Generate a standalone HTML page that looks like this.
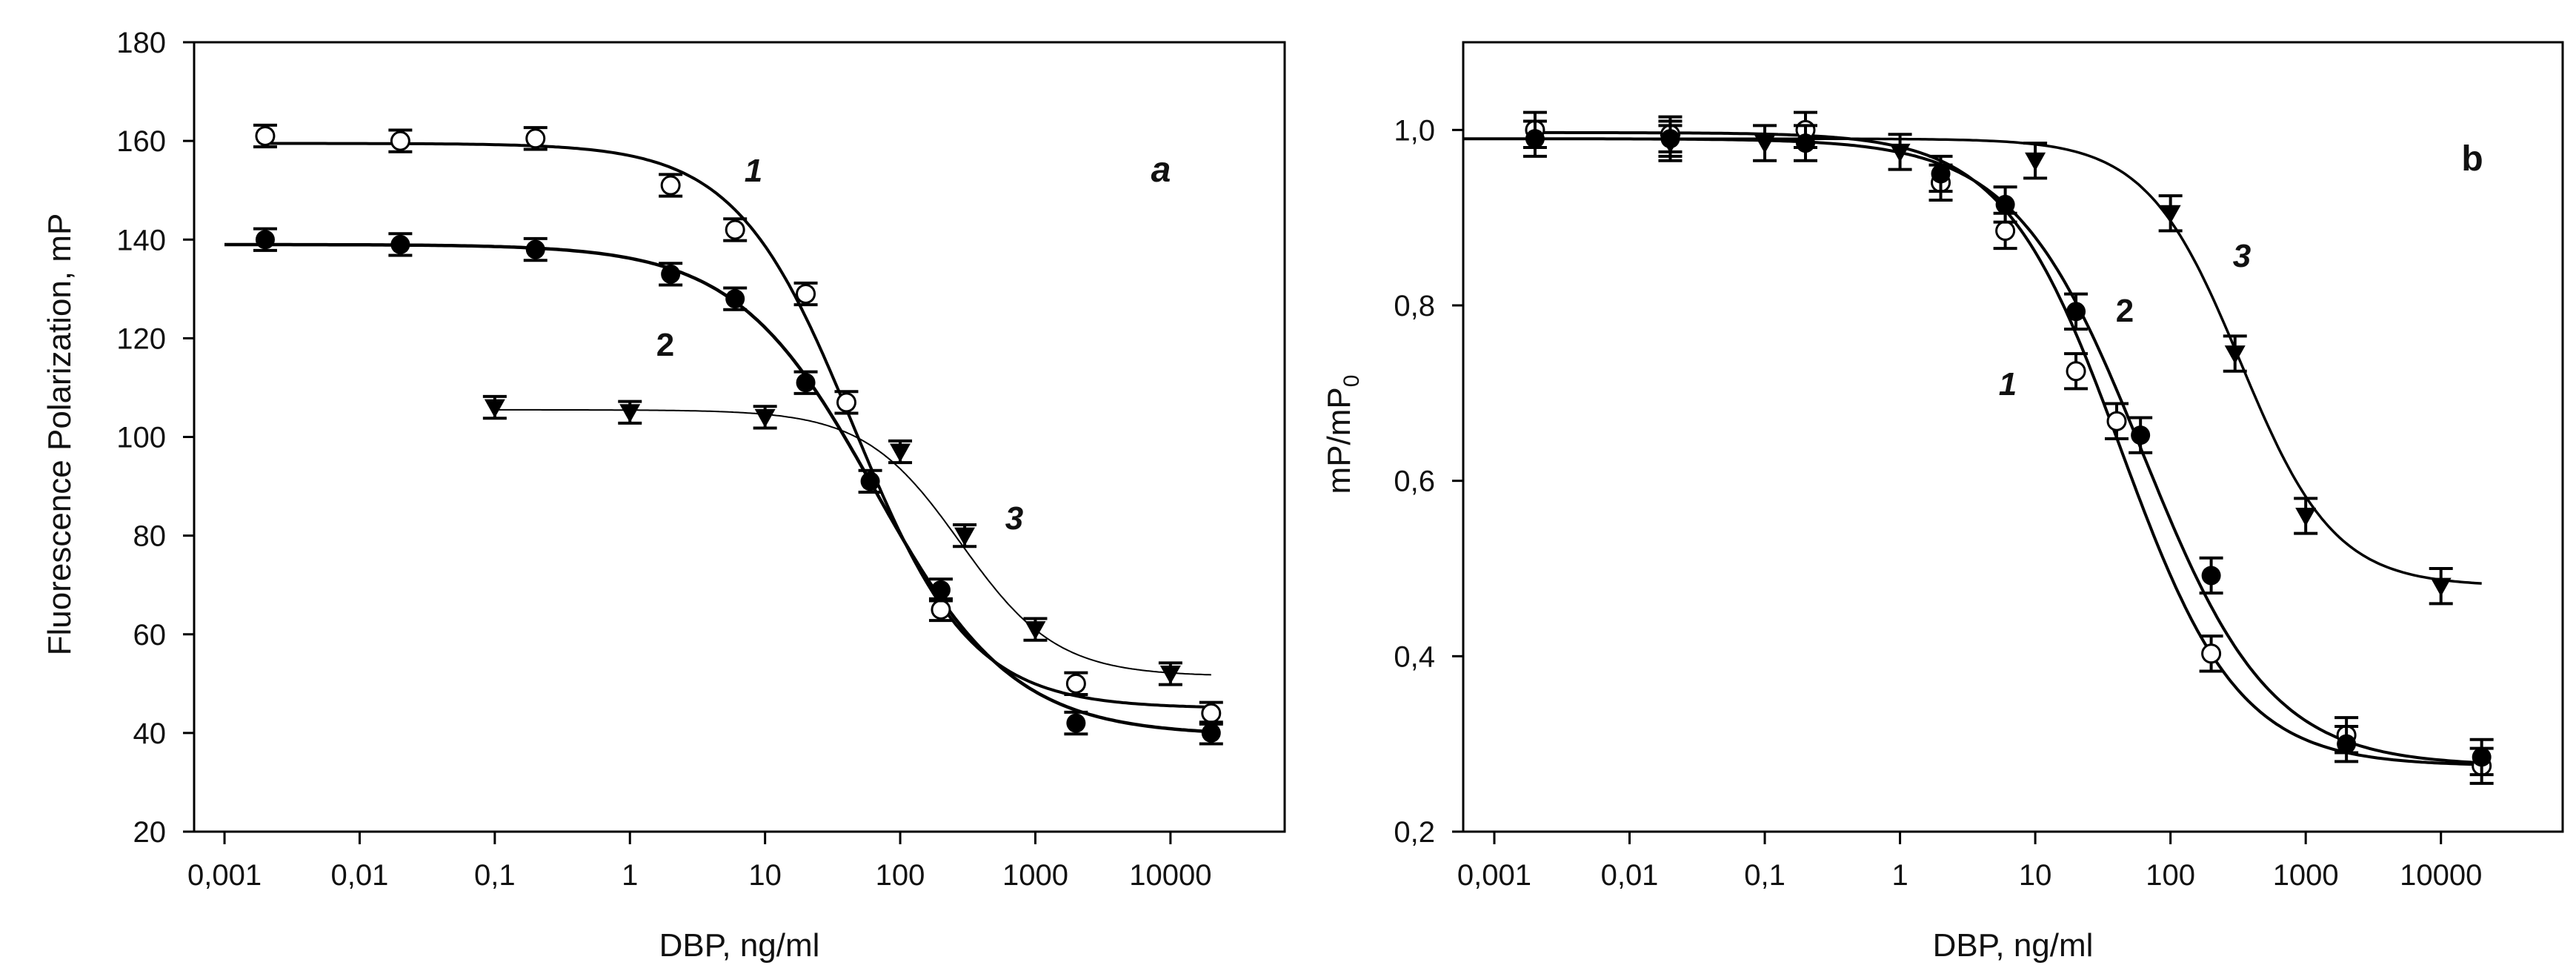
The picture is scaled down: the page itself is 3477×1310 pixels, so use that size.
<!DOCTYPE html>
<html><head><meta charset="utf-8"><style>
html,body{margin:0;padding:0;background:#fff}
svg{display:block}
text{font-family:"Liberation Sans",Arial,sans-serif;fill:#111}
</style></head><body>
<svg id="fig" width="3477" height="1310" viewBox="0 0 3477 1310" xmlns="http://www.w3.org/2000/svg">
<g id="pa"></g>
<g id="pb"></g>
</svg>
<script>
// ---------- data: panel a ----------
const xTickValues = [0.001,0.01,0.1,1,10,100,1000,10000];
const xTickLabels = ["0,001","0,01","0,1","1","10","100","1000","10000"];
const aYTicks = [20,40,60,80,100,120,140,160,180];
const aYTickLabels = ["20","40","60","80","100","120","140","160","180"];
const a1x = [0.002,0.02,0.2,2,6,20,40,200,2000,20000];
const a1y = [161,160,160.5,151,142,129,107,65,50,44];
const a2x = [0.002,0.02,0.2,2,6,20,60,200,2000,20000];
const a2y = [140,139,138,133,128,111,91,69,42,40];
const a3x = [0.1,1,10,100,300,1000,10000];
const a3y = [106,105,104,97,80,61,52];
const aErr = 2.2;
const aFit1 = [159.5,45,45,1.0];   // top, bottom, IC50, slope
const aFit2 = [139,39.5,65,0.85];
const aFit3 = [105.5,51.5,280,1.22];
// ---------- data: panel b ----------
const bYTicks = [0.2,0.4,0.6,0.8,1.0];
const bYTickLabels = ["0,2","0,4","0,6","0,8","1,0"];
const b1x = [0.002,0.02,0.2,2,6,20,40,200,2000,20000];
const b1y = [1.0,0.995,1.0,0.94,0.885,0.725,0.668,0.403,0.31,0.275];
const b2x = [0.002,0.02,0.2,2,6,20,60,200,2000,20000];
const b2y = [0.99,0.99,0.985,0.95,0.915,0.793,0.652,0.492,0.30,0.285];
const b3x = [0.02,0.1,1,10,100,300,1000,10000];
const b3y = [0.985,0.985,0.975,0.965,0.905,0.745,0.56,0.48];
const bErr = 0.02;
const bFit1 = [0.997,0.275,43,1.0];
const bFit2 = [0.99,0.275,62,0.92];
const bFit3 = [0.99,0.48,330,1.25];

const NS="http://www.w3.org/2000/svg";
function el(parent,tag,attrs,text){
  const e=document.createElementNS(NS,tag);
  for(const k in attrs)e.setAttribute(k,attrs[k]);
  if(text!==undefined)e.textContent=text;
  parent.appendChild(e);return e;
}
function logistic(p,x){return p[1]+(p[0]-p[1])/(1+Math.pow(x/p[2],p[3]));}

function panel(g,cfg){
  const L=cfg.L,R=cfg.R,T=57,B=1122;
  const X=v=>L+(Math.log10(v)-cfg.xmin)/(cfg.xmax-cfg.xmin)*(R-L);
  const Y=v=>B-(v-cfg.ymin)/(cfg.ymax-cfg.ymin)*(B-T);
  const frame=el(g,'rect',{x:L,y:T,width:R-L,height:B-T,fill:'none',stroke:'#000','stroke-width':3});
  
  
  xTickValues.forEach((v,i)=>{
    const t=el(g,'line',{x1:X(v),x2:X(v),y1:B,y2:B+17,stroke:'#000','stroke-width':3});
    
    
    const lb=el(g,'text',{x:X(v),y:B+72,'font-size':40,'text-anchor':'middle'},xTickLabels[i]);
    
    
  });
  cfg.yt.forEach((v,i)=>{
    const t=el(g,'line',{x1:L-15,x2:L,y1:Y(v),y2:Y(v),stroke:'#000','stroke-width':3});
    
    
    const lb=el(g,'text',{x:L-38,y:Y(v)+14,'font-size':40,'text-anchor':'end'},cfg.ytl[i]);
    
    
  });
  const xl=el(g,'text',{x:(L+R)/2,y:1290,'font-size':44,'text-anchor':'middle'},'DBP, ng/ml');
  
  
  const yl=el(g,'text',{x:0,y:0,'font-size':44,'text-anchor':'middle',transform:`translate(${cfg.ylx},586) rotate(-90)`});
  
  
  yl.textContent=cfg.ylabel;
  if(cfg.ysub){const s=el(yl,'tspan',{'font-size':30,dy:12},cfg.ysub);}
  // fitted curves
  cfg.series.forEach((s,si)=>{
    let d='';const n=300;
    const a=Math.log10(s.from),b=Math.log10(20000);
    for(let i=0;i<=n;i++){const lx=a+(b-a)*i/n;const x=Math.pow(10,lx);
      d+=(i?'L':'M')+X(x).toFixed(1)+','+Y(logistic(s.fit,x)).toFixed(1);}
    const p=el(g,'path',{d:d,fill:'none',stroke:'#000','stroke-width':s.w});
    
    
  });
  cfg.series.forEach((s,si)=>{
    s.xs.forEach((xv,i)=>{
      const cx=X(xv),cy=Y(s.ys[i]),e=(cfg.ymax-cfg.ymin)>1?cfg.err:cfg.err;
      const y1=Y(s.ys[i]+e),y2=Y(s.ys[i]-e);
      const eb=el(g,'path',{d:`M${cx-16},${y1}H${cx+16}M${cx},${y1}V${y2}M${cx-16},${y2}H${cx+16}`,stroke:'#000','stroke-width':4,fill:'none'});
      
      
      let m;
      if(s.m==='open') m=el(g,'circle',{cx:cx,cy:cy,r:12,fill:'#fff',stroke:'#000','stroke-width':3});
      else if(s.m==='fill') m=el(g,'circle',{cx:cx,cy:cy,r:13,fill:'#000'});
      else m=el(g,'path',{d:`M${cx-14},${cy-11}L${cx+14},${cy-11}L${cx},${cy+14}Z`,fill:'#000'});
      
      
    });
  });
  cfg.notes.forEach(n=>{
    const t=el(g,'text',{x:n[1],y:n[2],'font-size':n[3],'font-weight':'bold','font-style':n[4],'text-anchor':'middle'},n[0]);
    
    
  });
}
panel(document.getElementById('pa'),{L:262,R:1734,xmin:-3.225,xmax:4.845,ymin:20,ymax:180,
  yt:aYTicks,ytl:aYTickLabels,ylabel:'Fluorescence Polarization, mP',ylx:95,err:aErr,
  series:[{xs:a1x,ys:a1y,fit:aFit1,m:'open',w:4,from:0.002},
          {xs:a2x,ys:a2y,fit:aFit2,m:'fill',w:4.5,from:0.001},
          {xs:a3x,ys:a3y,fit:aFit3,m:'tri',w:2,from:0.1}],
  notes:[['a',1567,245,48,'italic'],['1',1017,245,44,'italic'],['2',898,480,44,'normal'],['3',1369,714,44,'italic']]});
panel(document.getElementById('pb'),{L:1975,R:3459,xmin:-3.23,xmax:4.9,ymin:0.2,ymax:1.1,
  yt:bYTicks,ytl:bYTickLabels,ylabel:'mP/mP',ysub:'0',ylx:1822,err:bErr,
  series:[{xs:b1x,ys:b1y,fit:bFit1,m:'open',w:4,from:0.002},
          {xs:b2x,ys:b2y,fit:bFit2,m:'fill',w:4,from:0.0006},
          {xs:b3x,ys:b3y,fit:bFit3,m:'tri',w:3.5,from:0.0006}],
  notes:[['b',3337,230,48,'normal'],['3',3026,360,44,'italic'],['2',2868,434,44,'normal'],['1',2710,533,44,'italic']]});
</script>
</body></html>
